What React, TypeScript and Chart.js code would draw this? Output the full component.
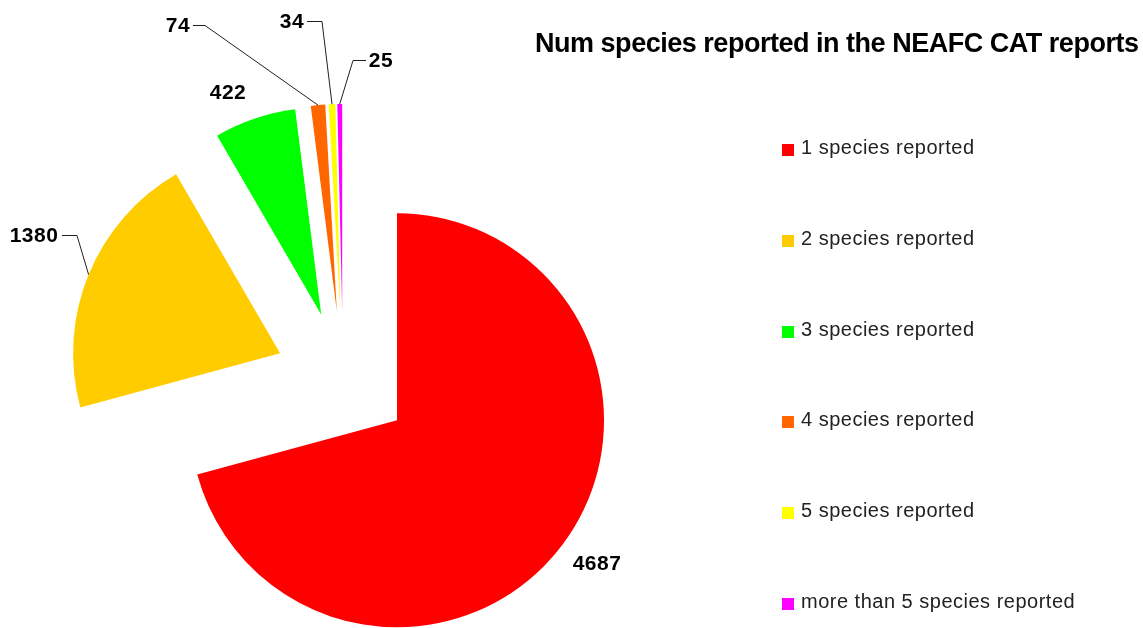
import React, { useEffect, useRef } from "react";
import { Chart, registerables } from "chart.js";

Chart.register(...registerables);

// ---- data ----
const categories = [
  "1 species reported",
  "2 species reported",
  "3 species reported",
  "4 species reported",
  "5 species reported",
  "more than 5 species reported",
];
const counts = [4687, 1380, 422, 74, 34, 25];
const sliceColors = ["#FF0000", "#FFCC00", "#00FF00", "#FF6600", "#FFFF00", "#FF00FF"];
const titleText = "Num species reported in the NEAFC CAT reports";

// ---- style / layout (not data) ----
type LabelPos = { x: number; y: number; elbow: [number, number] | null; end: [number, number] | null };
const labelLayout: LabelPos[] = [
  { x: 597, y: 564, elbow: null, end: null },
  { x: 34, y: 236, elbow: [77, 235], end: [62, 235] },
  { x: 228, y: 93, elbow: null, end: null },
  { x: 178, y: 26, elbow: [205, 25], end: [193, 25] },
  { x: 292, y: 22, elbow: [322, 21], end: [307, 21] },
  { x: 381, y: 61, elbow: [353, 60], end: [366, 60] },
];
const explodeDistance = 68;
const legendX = 782;
const legendTop = 147;
const legendStep = 90.8;

// Exploded-slice drawing: translate each arc outward by a fixed distance
// along its mid angle while keeping the library-computed radius and angles.
function explodedArcDraw(this: any, ctx: CanvasRenderingContext2D) {
  const o = this.options.offset || 0;
  const half = (this.startAngle + this.endAngle) / 2;
  ctx.save();
  ctx.translate(Math.cos(half) * o, Math.sin(half) * o);
  ctx.beginPath();
  ctx.moveTo(this.x, this.y);
  ctx.arc(this.x, this.y, this.outerRadius, this.startAngle, this.endAngle);
  ctx.closePath();
  ctx.fillStyle = this.options.backgroundColor;
  ctx.fill();
  ctx.restore();
}

const explodePlugin = {
  id: "explode",
  beforeDatasetsDraw(chart: any) {
    const meta = chart.getDatasetMeta(0);
    meta.data.forEach((arc: any) => {
      arc.draw = explodedArcDraw;
    });
  },
};

const overlayPlugin = {
  id: "overlay",
  afterDatasetsDraw(chart: any) {
    const ctx: CanvasRenderingContext2D = chart.ctx;
    const meta = chart.getDatasetMeta(0);
    ctx.save();
    // value labels with leader lines
    meta.data.forEach((arc: any, i: number) => {
      const p = arc.getProps(["x", "y", "startAngle", "endAngle", "outerRadius"], true);
      const mid = (p.startAngle + p.endAngle) / 2;
      const off = arc.options.offset || 0;
      const ax = p.x + Math.cos(mid) * (p.outerRadius + off);
      const ay = p.y + Math.sin(mid) * (p.outerRadius + off);
      const lp = labelLayout[i];
      if (lp.elbow && lp.end) {
        ctx.strokeStyle = "#202020";
        ctx.lineWidth = 1;
        ctx.beginPath();
        ctx.moveTo(ax, ay);
        ctx.lineTo(lp.elbow[0], lp.elbow[1] + 0.5);
        ctx.lineTo(lp.end[0], lp.end[1] + 0.5);
        ctx.stroke();
      }
      ctx.fillStyle = "#000";
      ctx.font = "bold 21px 'Liberation Sans', Arial, sans-serif";
      (ctx as any).letterSpacing = "0.5px";
      ctx.textAlign = "center";
      ctx.textBaseline = "middle";
      ctx.fillText(String(counts[i]), lp.x, lp.y);
    });

    // title
    ctx.font = "bold 27px 'Liberation Sans', Arial, sans-serif";
    (ctx as any).letterSpacing = "0px";
    const w = ctx.measureText(titleText).width;
    const target = 604;
    (ctx as any).letterSpacing = ((target - w) / (titleText.length - 1)).toFixed(2) + "px";
    ctx.textAlign = "left";
    ctx.textBaseline = "alphabetic";
    ctx.fillStyle = "#000";
    ctx.fillText(titleText, 535, 52);

    // legend
    ctx.font = "20px 'Liberation Sans', Arial, sans-serif";
    (ctx as any).letterSpacing = "0.5px";
    ctx.textBaseline = "alphabetic";
    categories.forEach((c, i) => {
      const cy = legendTop + i * legendStep;
      const baseline = Math.round(cy + 7);
      ctx.fillStyle = sliceColors[i];
      ctx.fillRect(legendX, baseline - 10, 12, 12);
      ctx.fillStyle = "#222";
      ctx.fillText(c, legendX + 19, baseline);
    });
    ctx.restore();
  },
};

export default function App() {
  const ref = useRef<HTMLCanvasElement>(null);
  useEffect(() => {
    if (!ref.current) return;
    const chart = new Chart(ref.current, {
      type: "pie",
      data: {
        labels: categories,
        datasets: [
          {
            data: counts,
            backgroundColor: sliceColors,
            borderWidth: 0,
            offset: explodeDistance,
            clip: false,
          } as any,
        ],
      },
      options: {
        animation: false,
        responsive: false,
        devicePixelRatio: 1,
        events: [],
        radius: 207,
        layout: { padding: { left: 0, right: 457, top: 130, bottom: 0 } },
        plugins: {
          legend: { display: false },
          title: { display: false },
          tooltip: { enabled: false },
        },
      } as any,
      plugins: [explodePlugin, overlayPlugin],
    });
    return () => chart.destroy();
  }, []);
  return (
    <div style={{ position: "fixed", left: 0, top: 0, width: 1143, height: 628, background: "#fff" }}>
      <canvas ref={ref} width={1143} height={628} style={{ width: 1143, height: 628, display: "block" }} />
    </div>
  );
}
